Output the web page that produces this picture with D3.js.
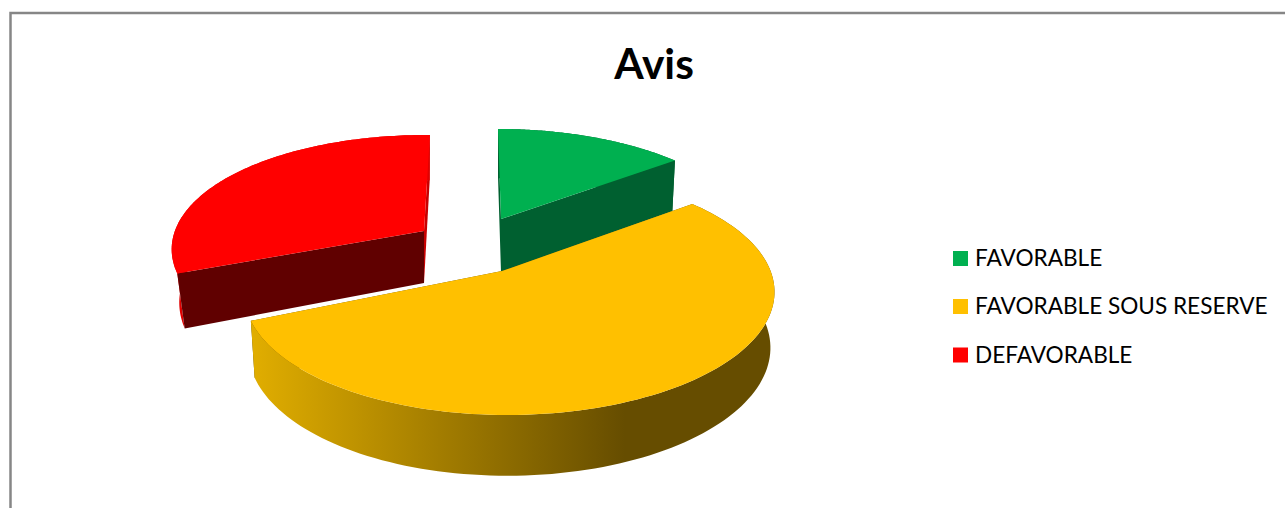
<!DOCTYPE html>
<html><head><meta charset="utf-8">
<script src="https://cdn.jsdelivr.net/npm/d3@7"></script>
<style>html,body{margin:0;padding:0;background:#fff;overflow:hidden}svg{display:block}</style>
</head><body><svg id="chart" width="1285" height="508"></svg>
<script>
const titleText = "Avis";
const categories = ["FAVORABLE", "FAVORABLE SOUS RESERVE", "DEFAVORABLE"];
const seriesValues = [14.4, 54.0, 31.6];

// layout and styling, kept apart from the data
const topColors = ["#00B050", "#FFC000", "#FF0000"];
const wallColors = ["#006030", "url(#sideGold)", "#E00000"];
const startCutColors = ["#006030", "#664D00", "#600000"];
const endCutColors = ["#006030", "#664D00", "#C80000"];
const frontCut = ["end", null, "start"];
const apex = [[501, 219], [502, 271], [424, 231]];
const scaleX = [0.93, 1, 0.985];
const scaleY = [0.90, 1, 0.96];
const shear = [-10.6, 3.5, -4.8];
const spin = [1.5 * Math.PI / 180, 0, 2.6 * Math.PI / 180];
const depth = [[53, 0.985, 1.04], [55, 0.985, 1.04], [52, 0.97, 1.07]];
const persp = 0.18, tilt = 0.03, Rx = 260.5, Ry = 118;
const legendY = [258, 306, 354.5];

const svg = d3.select("#chart");
const defs = svg.append("defs");
const grad = defs.append("linearGradient").attr("id", "sideGold")
  .attr("gradientUnits", "userSpaceOnUse").attr("x1", 254).attr("x2", 625).attr("y1", 0).attr("y2", 0);
grad.append("stop").attr("offset", 0).attr("stop-color", "#E0AD00");
grad.append("stop").attr("offset", 1).attr("stop-color", "#664D00");

// frame
svg.append("path").attr("d", "M10.5 508V13H1285").attr("fill", "none").attr("stroke", "#868686").attr("stroke-width", 2.5);

const pie = d3.pie().sort(null).value(d => d);
const arcs = pie(seriesValues);
const lineGen = d3.line().x(d => d[0]).y(d => d[1]);

function project(i, angle, r, lower) {
  const a = angle + spin[i];
  const u = Math.sin(a) * r, v = Math.cos(a) * r;
  const w = 1 + persp * v - tilt * u;
  let dx = (Rx * u + shear[i] * v) / w * scaleX[i];
  let dy = -Ry * v / w * scaleY[i];
  let ox = apex[i][0], oy = apex[i][1];
  if (lower) { dx *= depth[i][1]; dy *= depth[i][2]; oy += depth[i][0]; }
  return [ox + dx, oy + dy];
}
function rim(i, a0, a1, lower) {
  const n = 120;
  return d3.range(n + 1).map(k => project(i, a0 + (a1 - a0) * k / n, 1, lower));
}

function drawSlice(i) {
  const a = arcs[i], g = svg.append("g");
  const top = rim(i, a.startAngle, a.endAngle, false);
  const low = rim(i, a.startAngle, a.endAngle, true);
  const cTop = project(i, 0, 0, false), cLow = project(i, 0, 0, true);
  const startCut = () => g.append("path").attr("d", lineGen([cTop, top[0], low[0], cLow]) + "Z").attr("fill", startCutColors[i]);
  const endCut = () => g.append("path").attr("d", lineGen([cTop, top[top.length - 1], low[low.length - 1], cLow]) + "Z").attr("fill", endCutColors[i]);
  if (frontCut[i] !== "start") startCut();
  if (frontCut[i] !== "end") endCut();
  g.append("path").attr("d", lineGen(top.concat(low.slice().reverse())) + "Z").attr("fill", wallColors[i]);
  if (frontCut[i] === "start") startCut();
  if (frontCut[i] === "end") endCut();
  g.append("path").attr("d", lineGen([cTop].concat(top)) + "Z").attr("fill", topColors[i]);
}
[2, 0, 1].forEach(drawSlice);

svg.append("text").text(titleText).attr("x", 654).attr("y", 79).attr("text-anchor", "middle")
  .attr("font-family", "Lato").attr("font-weight", 700).attr("font-size", 42.5).attr("fill", "#000");

const lg = svg.append("g").selectAll("g").data(categories).join("g");
lg.append("rect").attr("x", 953).attr("y", (d, i) => legendY[i] - 7).attr("width", 15).attr("height", 15)
  .attr("fill", (d, i) => topColors[i]);
lg.append("text").text(d => d).attr("x", 975).attr("y", (d, i) => legendY[i] + 8)
  .attr("font-family", "Lato").attr("font-size", 22.6).attr("fill", "#000");
</script></body></html>
